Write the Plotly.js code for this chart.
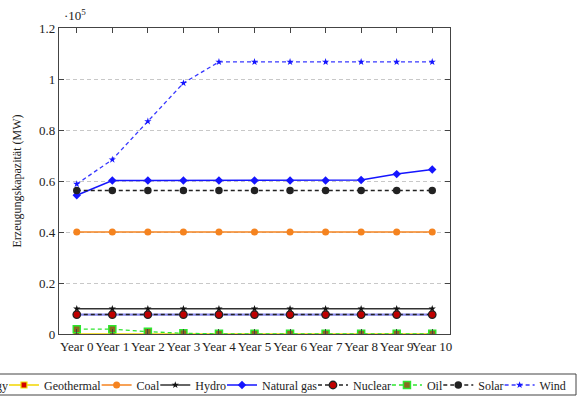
<!DOCTYPE html>
<html><head><meta charset="utf-8">
<script src="https://cdn.plot.ly/plotly-3.0.1.min.js"></script>
<style>html,body{margin:0;padding:0;background:#fff;}#chart{width:577px;height:396px;}</style>
</head><body><div id="chart"></div>
<script>
// ---------- data ----------
const years = ['Year 0','Year 1','Year 2','Year 3','Year 4','Year 5','Year 6','Year 7','Year 8','Year 9','Year 10'];
const seriesNames = ['Bioenergy','Geothermal','Coal','Hydro','Natural gas','Nuclear','Oil','Solar','Wind'];
const bioenergy  = [7600,7600,7600,7600,7600,7600,7600,7600,7600,7600,7600];
const geothermal = [0,0,0,0,0,0,0,0,0,0,0];
const coal       = [40000,40000,40000,40000,40000,40000,40000,40000,40000,40000,40000];
const hydro      = [9900,9900,9900,9900,9900,9900,9900,9900,9900,9900,9900];
const naturalGas = [54400,60200,60200,60200,60200,60200,60200,60200,60400,62700,64500];
const nuclear    = [7600,7600,7600,7600,7600,7600,7600,7600,7600,7600,7600];
const oil        = [1900,1900,900,300,50,50,50,50,50,50,50];
const solar      = [56300,56300,56300,56300,56300,56300,56300,56300,56300,56300,56300];
const wind       = [58800,68400,83400,98400,106700,106700,106700,106700,106700,106700,106700];
const yTickVals  = [0,20000,40000,60000,80000,100000,120000];
const yTickText  = ['0','0.2','0.4','0.6','0.8','1','1.2'];
const yTitle = 'Erzeugungskapazität (MW)';

// ---------- geometry helpers ----------
const W = 577, H = 396;
const M = {l:59, r:127, t:28, b:62};
const plotW = W - M.l - M.r, plotH = H - M.t - M.b;
const px2x = px => (px - M.l) / plotW;
const px2y = py => (H - M.b - py) / plotH;
const FONT = 'Liberation Serif';
const LEG_FS = 12;
const cv = document.createElement('canvas').getContext('2d');
function tw(s){ cv.font = LEG_FS + 'px "' + FONT + '"'; return cv.measureText(s).width; }

const values = [bioenergy, geothermal, coal, hydro, naturalGas, nuclear, oil, solar, wind];
const styles = [
  {line:{color:'#8a8aee', width:2.2}, mode:'lines'},
  {line:{color:'#f2d600', width:1.5}, marker:{symbol:'square', size:6, color:'#d40000', line:{color:'#f2e600', width:1.2}}},
  {line:{color:'#f5831f', width:1.5}, marker:{symbol:'circle', size:7, color:'#f5831f'}},
  {line:{color:'#333333', width:1.3}, marker:{symbol:'star', size:5.5, color:'#111111'}},
  {line:{color:'#1515ff', width:1.5}, marker:{symbol:'diamond', size:6.5, color:'#1515ff'}},
  {line:{color:'#222222', width:1.5, dash:'4px,3px'}, marker:{symbol:'circle', size:7.5, color:'#c00000', line:{color:'#222', width:1.3}}},
  {line:{color:'#2ee62e', width:1.3, dash:'4px,3px'}, marker:{symbol:'square', size:7, color:'#8a6a1e', line:{color:'#2ee62e', width:1.5}}},
  {line:{color:'#222222', width:1.5, dash:'4px,3px'}, marker:{symbol:'circle', size:7.5, color:'#222222'}},
  {line:{color:'#3838ff', width:1.3, dash:'4px,3px'}, marker:{symbol:'star', size:5.5, color:'#1515ff'}}
];
const legendOf = i => (i < 4 ? 'legend' : 'legend2');
const lastInGroup = i => (i === 3 || i === 8);

const traces = seriesNames.map((name, i) => {
  const t = Object.assign({
    type:'scatter', mode:'lines+markers', name:name, x:years, y:values[i],
    legend: legendOf(i)
  }, styles[i]);
  const w = tw(name);
  t.legendwidth = lastInGroup(i) ? w + 2 : Math.max(1, w - 9);
  return t;
});

// legend placement (pixel targets from the reference)
const legWidth = idx => idx.reduce((s,i) => s + 45 + traces[i].legendwidth, 0);
const right2 = 573;
const left2 = right2 - legWidth([4,5,6,7,8]);
const right1 = left2 + 11;
const legY = px2y(385);
const legFont = {family:FONT, size:LEG_FS, color:'#222'};

const layout = {
  width:W, height:H,
  margin:{l:M.l, r:M.r, t:M.t, b:M.b, autoexpand:false},
  paper_bgcolor:'#fff', plot_bgcolor:'#fff',
  font:{family:FONT, size:13, color:'#222'},
  xaxis:{
    type:'category', range:[-0.5, 10.5], tickangle:0,
    showgrid:false, zeroline:false,
    showline:true, linecolor:'#444', linewidth:1.2, mirror:'ticks',
    ticks:'inside', ticklen:5, tickcolor:'#444',
    tickfont:{family:FONT, size:13, color:'#222'}
  },
  yaxis:{
    range:[0,120000], tickvals:yTickVals, ticktext:yTickText,
    showgrid:true, gridcolor:'#c8c8c8', griddash:'4px,3px', gridwidth:1,
    zeroline:false, showline:true, linecolor:'#444', linewidth:1.2, mirror:'ticks',
    ticks:'inside', ticklen:5, tickcolor:'#444',
    tickfont:{family:FONT, size:13, color:'#222'},
    title:{text:yTitle, font:{family:FONT, size:12, color:'#222'}, standoff:14}
  },
  showlegend:true,
  legend:{orientation:'h', xanchor:'right', x:px2x(right1), yanchor:'middle', y:legY,
          bgcolor:'rgba(0,0,0,0)', borderwidth:0, font:legFont, itemwidth:30, traceorder:'normal'},
  legend2:{orientation:'h', xanchor:'right', x:px2x(right2), yanchor:'middle', y:legY,
          bgcolor:'rgba(0,0,0,0)', borderwidth:0, font:legFont, itemwidth:30, traceorder:'normal'},
  shapes:[{type:'rect', xref:'paper', yref:'paper', x0:px2x(-10), x1:px2x(576), y0:px2y(395), y1:px2y(374),
           line:{color:'#444', width:1}, fillcolor:'rgba(0,0,0,0)', layer:'below'}],
  annotations:[{xref:'paper', yref:'paper', x:px2x(62), y:1, xanchor:'left', yanchor:'bottom', yshift:3,
                showarrow:false, text:'·10<sup>5</sup>', font:{family:FONT, size:13, color:'#222'}}]
};

Plotly.newPlot('chart', traces, layout, {displayModeBar:false, staticPlot:true});
</script>
</body></html>
